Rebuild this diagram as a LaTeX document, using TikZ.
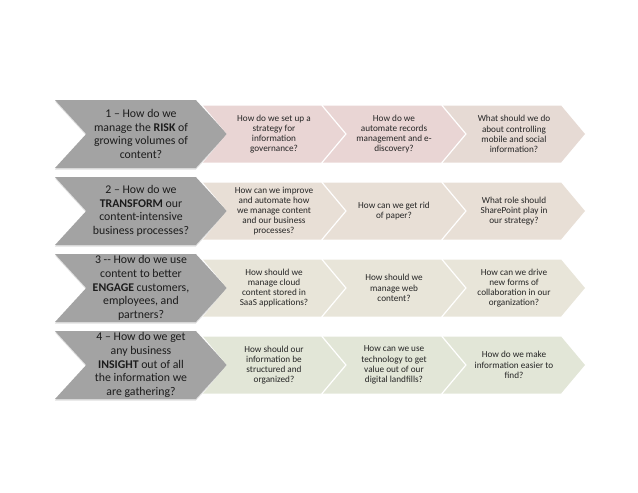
\documentclass[tikz,border=0pt]{standalone}
\usepackage{fontspec}
\setmainfont{Carlito}
\usepackage{tikz}
\usetikzlibrary{shapes, shadows, arrows.meta}
\usepackage{xcolor}
\definecolor{leadgray}{HTML}{A3A3A3}
\definecolor{leadtext}{HTML}{1C1C1C}
\definecolor{questtext}{HTML}{262626}
\definecolor{rowone}{HTML}{E9D5D4}
\definecolor{rowonec}{HTML}{E6DAD4}
\definecolor{rowtwo}{HTML}{E8DFD6}
\definecolor{rowthree}{HTML}{E8E5D9}
\definecolor{rowfour}{HTML}{E2E6D7}
\tikzstyle{lead} = [signal, signal to=east, signal from=west, signal pointer angle=95, fill=leadgray, text=leadtext, minimum width=172pt, minimum height=68pt, inner sep=0pt, align=center, font=\fontsize{11.8}{13.6}\selectfont, node distance=77pt, drop shadow={shadow xshift=0pt, shadow yshift=-1.5pt, opacity=0.25}]
\tikzstyle{quest} = [signal, signal to=east, signal from=west, signal pointer angle=100, text=questtext, minimum width=142pt, minimum height=57pt, inner sep=0pt, align=center, font=\fontsize{9.2}{10.2}\selectfont, node distance=120pt]

\begin{document}
\begin{tikzpicture}
                \useasboundingbox (-141pt,134pt) rectangle (497pt,-359pt);

                % Lead questions
                \node [lead] (risk) {1 -- How do we\\manage the \textbf{RISK} of\\growing volumes of\\content?};
                \node [lead, below of=risk] (transform) {2 -- How do we\\\textbf{TRANSFORM} our\\content-intensive\\business processes?};
                \node [lead, below of=transform] (engage) {3 -{}- How do we use\\content to better\\\textbf{ENGAGE} customers,\\employees, and\\partners?};
                \node [lead, below of=engage] (insight) {4 -- How do we get\\any business\\\textbf{INSIGHT} out of all\\the information we\\are gathering?};

                % Row 1
                \node [quest, fill=rowone, right of=risk, xshift=13pt] (risk1) {How do we set up a\\strategy for\\information\\governance?};
                \node [quest, fill=rowone, right of=risk1] (risk2) {How do we\\automate records\\management and e-\\discovery?};
                \node [quest, fill=rowonec, right of=risk2] (risk3) {What should we do\\about controlling\\mobile and social\\information?};

                % Row 2
                \node [quest, fill=rowtwo, right of=transform, xshift=13pt] (transform1) {How can we improve\\and automate how\\we manage content\\and our business\\processes?};
                \node [quest, fill=rowtwo, right of=transform1] (transform2) {How can we get rid\\of paper?};
                \node [quest, fill=rowtwo, right of=transform2] (transform3) {What role should\\SharePoint play in\\our strategy?};

                % Row 3
                \node [quest, fill=rowthree, right of=engage, xshift=13pt] (engage1) {How should we\\manage cloud\\content stored in\\SaaS applications?};
                \node [quest, fill=rowthree, right of=engage1] (engage2) {How should we\\manage web\\content?};
                \node [quest, fill=rowthree, right of=engage2] (engage3) {How can we drive\\new forms of\\collaboration in our\\organization?};

                % Row 4
                \node [quest, fill=rowfour, right of=insight, xshift=13pt] (insight1) {How should our\\information be\\structured and\\organized?};
                \node [quest, fill=rowfour, right of=insight1] (insight2) {How can we use\\technology to get\\value out of our\\digital landfills?};
                \node [quest, fill=rowfour, right of=insight2] (insight3) {How do we make\\information easier to\\find?};
            \end{tikzpicture}
\end{document}
